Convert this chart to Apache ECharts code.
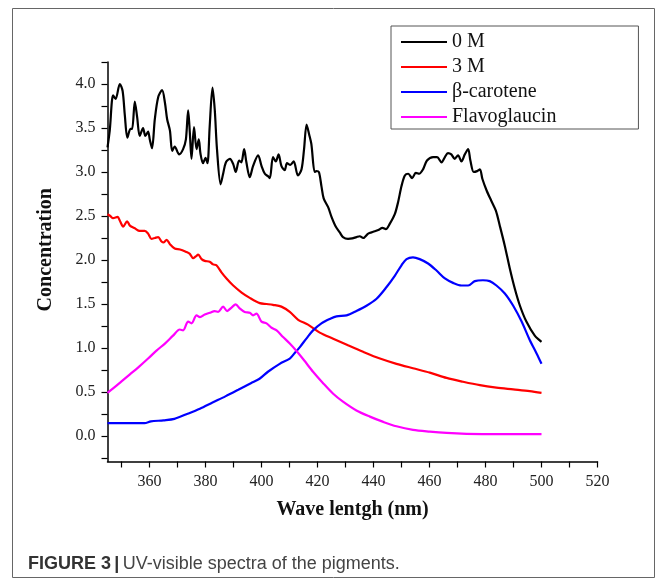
<!DOCTYPE html>
<html>
<head>
<meta charset="utf-8">
<script src="https://cdn.jsdelivr.net/npm/echarts@6/dist/echarts.min.js"></script>
<style>
html,body{margin:0;padding:0;background:#fff;}
#c{width:667px;height:583px;}
</style>
</head>
<body>
<div id="c"></div>
<script>
// ---- data ----
const seriesNames = ['0 M', '3 M', 'β-carotene', 'Flavoglaucin'];

const blackX = [345,345.8,347,347.9,349.4,350.4,351.2,352.1,353.2,353.8,354.75,355.6,356.5,357.7,358.5,359.5,360.1,360.9,361.9,363.1,364.5,365.5,366.3,367.3,368.1,369,370.6,372,373,373.8,374.4,375,375.9,376.8,377.6,378.2,379.1,380,380.7,381.5,382.5,383.3,384.1,385.4,386.3,387.3,388.7,389.9,390.8,392,392.8,393.8,394.6,395.8,397,398.8,400,401.2,402.4,403,404.1,405.1,406.1,407.1,408.3,409.1,410.3,411.5,413,414.3,415.2,416.1,417,417.8,419,419.6,420.5,421.4,422.2,423.8,425,426.5,428,429.1,430.9,432.4,433.9,435.1,436.3,438.1,439.9,441.7,443.2,444.4,445.8,447.6,448.8,450,451.2,452.4,453.8,455.1,456.3,457.7,459.1,461.3,462.7,464.3,465.5,466.6,467.8,469,470.2,471.4,472.6,473.8,474.6,475.8,477,478,478.9,480.4,482.1,483.7,485.1,486.9,488.7,490.5,492.3,494.6,497.6,500];
const blackY = [3.28,3.47,3.87,3.83,4.00,3.92,3.64,3.39,3.49,3.49,3.80,3.62,3.41,3.50,3.41,3.46,3.37,3.27,3.60,3.85,3.93,3.79,3.60,3.47,3.24,3.29,3.20,3.26,3.37,3.70,3.45,3.15,3.51,3.26,3.37,3.21,3.10,3.16,3.10,3.52,3.96,3.71,3.26,2.86,2.98,3.11,3.15,3.09,3.00,3.13,3.11,3.26,3.11,2.94,3.07,3.19,3.07,2.98,2.95,2.93,3.17,3.12,3.20,3.07,3.02,3.10,3.08,3.12,2.96,3.03,3.26,3.54,3.43,3.32,3.00,3.01,3.00,2.84,2.70,2.60,2.49,2.38,2.31,2.26,2.24,2.245,2.26,2.27,2.25,2.30,2.32,2.34,2.365,2.35,2.41,2.52,2.66,2.84,2.96,2.98,2.93,2.99,2.98,3.03,3.13,3.17,3.17,3.11,3.17,3.215,3.20,3.15,3.19,3.12,3.20,3.26,3.13,3.00,3.01,3.03,2.92,2.79,2.67,2.56,2.39,2.16,1.90,1.67,1.48,1.30,1.14,1.07];

const redX = [345,346,347,348.6,349.5,350.6,352,353,354.75,356.5,358.3,359.5,360.7,361.9,363.1,364.3,365.1,366.1,367.3,369,370.9,373.2,374.4,375.6,376.5,377.4,378.6,379.75,381.5,382.7,383.9,385.7,387.5,389.9,392.9,395.8,399.4,401.8,404.1,407.1,410.1,413.1,416.6,420.8,425.6,430.9,436.3,442.3,448.2,454.1,460.1,466.1,472,478,483.9,489.9,495.8,500];
const redY = [2.52,2.50,2.475,2.49,2.44,2.38,2.44,2.39,2.36,2.33,2.33,2.30,2.24,2.25,2.26,2.21,2.20,2.23,2.18,2.13,2.12,2.09,2.07,2.02,2.04,2.06,2.01,1.99,1.98,1.95,1.94,1.86,1.79,1.71,1.63,1.57,1.51,1.50,1.49,1.47,1.41,1.32,1.265,1.175,1.105,1.03,0.956,0.88,0.82,0.77,0.72,0.66,0.616,0.577,0.55,0.53,0.51,0.49];

const blueX = [345,352,358.2,360.5,365,368.9,373.4,378,382.5,387.1,391.7,396.2,399.3,402.3,406.5,410.1,411.8,413.7,416.1,418.4,421.4,424.4,426.8,430.4,433.9,437.5,441.1,444.6,447.6,450,451.8,454.1,456.5,459.5,462.5,465.5,468.4,471.4,473.8,476.2,479.1,481.5,483.9,486.9,489.9,492.9,495.8,498.2,500];
const blueY = [0.145,0.145,0.145,0.165,0.178,0.195,0.25,0.31,0.38,0.45,0.525,0.60,0.65,0.73,0.82,0.88,0.94,1.01,1.11,1.20,1.28,1.33,1.36,1.37,1.42,1.48,1.56,1.69,1.82,1.94,2.01,2.03,2.01,1.96,1.88,1.79,1.74,1.71,1.71,1.76,1.77,1.76,1.71,1.62,1.48,1.30,1.09,0.94,0.82];

const magentaX = [345,347,350,353,356,359.5,362.5,365.5,368.4,370.8,372,373.8,375,376.8,378,379.75,381.5,383.3,384.5,386.3,387.7,389.3,390.8,392.2,394,395.8,397,398.2,400,401.8,403.6,405.4,407.7,410.1,412.5,415.2,418.4,422,425.6,429.1,433.9,438.7,443.5,448.2,454.1,460.1,466.1,473.2,483.9,500];
const magentaY = [0.49,0.54,0.62,0.70,0.78,0.88,0.97,1.05,1.14,1.21,1.20,1.30,1.28,1.37,1.35,1.38,1.40,1.42,1.41,1.47,1.42,1.46,1.495,1.45,1.41,1.40,1.37,1.39,1.30,1.28,1.23,1.20,1.125,1.05,0.965,0.86,0.73,0.60,0.48,0.39,0.29,0.22,0.16,0.11,0.07,0.05,0.035,0.025,0.02,0.02];

const xTickLabels = [360,380,400,420,440,460,480,500,520];
const xTicks = [350,360,370,380,390,400,410,420,430,440,450,460,470,480,490,500,510,520];
const yTickLabels = [0,0.5,1.0,1.5,2.0,2.5,3.0,3.5,4.0];
const yTicks = [-0.25,0,0.25,0.5,0.75,1.0,1.25,1.5,1.75,2.0,2.25,2.5,2.75,3.0,3.25,3.5,3.75,4.0,4.25];

const seriesColors = ['#000000','#ff0000','#0000ff','#ff00ff'];

// ---- chart ----
function pairs(xs, ys){ return xs.map((x,i)=>[x, ys[i]]); }
const allX = [blackX, redX, blueX, magentaX];
const allY = [blackY, redY, blueY, magentaY];

const serif = '"Liberation Serif", "Times New Roman", serif';
const sans = '"Liberation Sans", Arial, sans-serif';
const chart = echarts.init(document.getElementById('c'), null, {renderer:'canvas'});
chart.setOption({
  animation: false,
  backgroundColor: '#ffffff',
  grid: {left: 107.5, right: 69.5, top: 62, bottom: 121.5, containLabel: false},
  legend: {
    orient: 'vertical',
    left: 391, top: 26,
    padding: [6, 82, 2, 10],
    itemGap: 5,
    itemWidth: 46, itemHeight: 2,
    icon: 'rect',
    borderColor: '#555', borderWidth: 1,
    textStyle: {fontFamily: serif, fontSize: 20, color: '#111', lineHeight: 20},
    data: seriesNames
  },
  xAxis: {
    type: 'value', min: 345, max: 520,
    name: 'Wave lentgh (nm)', nameLocation: 'middle', nameGap: 38,
    nameTextStyle: {fontFamily: serif, fontSize: 20, fontWeight: 'bold', color: '#111'},
    axisLine: {show: true, onZero: false, lineStyle: {color: '#000', width: 1.5}},
    axisTick: {show: true, inside: false, length: 6, customValues: xTicks, lineStyle: {color: '#000', width: 1.2}},
    axisLabel: {customValues: xTickLabels, margin: 12, fontFamily: serif, fontSize: 16, color: '#222'},
    splitLine: {show: false}
  },
  yAxis: {
    type: 'value', min: -0.29, max: 4.25,
    name: 'Concentration', nameLocation: 'middle', nameGap: 52,
    nameTextStyle: {fontFamily: serif, fontSize: 20, fontWeight: 'bold', color: '#111', padding: [0, 0, 0, 24]},
    axisLine: {show: true, onZero: false, lineStyle: {color: '#000', width: 1.5}},
    axisTick: {show: true, inside: false, length: 6, customValues: yTicks, lineStyle: {color: '#000', width: 1.2}},
    axisLabel: {customValues: yTickLabels, margin: 12, fontFamily: serif, fontSize: 16, color: '#222',
      formatter: v => v.toFixed(1)},
    splitLine: {show: false}
  },
  series: seriesNames.map((n, i) => ({
    name: n, type: 'line', data: pairs(allX[i], allY[i]),
    showSymbol: false, smooth: 0.3,
    color: seriesColors[i],
    lineStyle: {width: 2.2, color: seriesColors[i]}
  })),
  graphic: [
    {type: 'rect', shape: {x: 12.5, y: 8.5, width: 642, height: 569}, style: {fill: 'none', stroke: '#666', lineWidth: 1}, z: -1},
    {type: 'text', left: 28, top: 555, style: {
      text: '{b|FIGURE 3} {bar||} {n|UV-visible spectra of the pigments.}',
      rich: {
        b: {fontFamily: sans, fontSize: 18, fontWeight: 'bold', fill: '#333'},
        bar: {fontFamily: sans, fontSize: 18, fontWeight: 'bold', fill: '#333'},
        n: {fontFamily: sans, fontSize: 18, fill: '#444'}
      }
    }}
  ]
});
</script>
</body>
</html>
